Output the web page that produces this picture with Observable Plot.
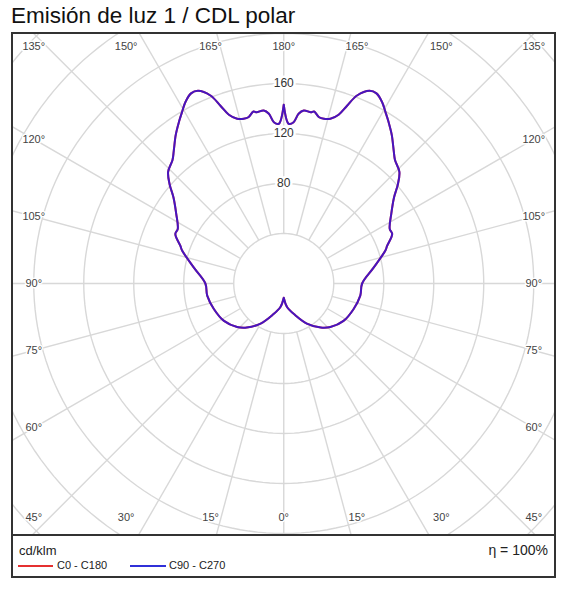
<!DOCTYPE html>
<html><head><meta charset="utf-8">
<script src="https://cdn.jsdelivr.net/npm/d3@7"></script>
<script src="https://cdn.jsdelivr.net/npm/@observablehq/plot@0.6"></script>
<style>
body{margin:0;background:#fff;font-family:"Liberation Sans",Arial,sans-serif;}
#title{position:absolute;left:11px;top:3px;font-size:22.5px;color:#111;white-space:nowrap;}
#box{position:absolute;left:11px;top:32px;width:541px;border:2px solid #333;background:#fff;}
#chart svg{display:block;}
#legend{position:relative;border-top:2px solid #333;height:40px;}
#legend .t{position:absolute;white-space:nowrap;color:#222;}
#legend .ln{position:absolute;height:0;border-top:2px solid;}
</style></head><body>
<div id="title">Emisión de luz 1 / CDL polar</div>
<div id="box"><div id="chart"></div>
<div id="legend">
<div class="t" style="left:6px;top:7px;font-size:13px;">cd/klm</div>
<div class="t" style="right:6px;top:6px;font-size:14px;">η = 100%</div>
<div class="ln" style="left:5px;top:29px;width:35px;border-color:#e53030;"></div>
<div class="t" style="left:44px;top:23px;font-size:11px;">C0 - C180</div>
<div class="ln" style="left:117px;top:29px;width:36px;border-color:#3030d8;"></div>
<div class="t" style="left:156px;top:23px;font-size:11px;">C90 - C270</div>
</div></div>
<script>
// Gamma angles (deg from nadir) and luminous intensity (cd/klm)
const gamma = [0, 8, 20, 30, 40, 47, 58, 70, 81, 90, 100, 108, 110, 114.6, 117.3, 123, 128, 131, 134, 138, 140.4, 144, 147, 149.3, 151.5, 154, 156, 158.7, 160.4, 162, 164.2, 166.3, 168, 170, 171, 173.4, 175, 176.5, 178.2, 180];
const c90 = [11.4, 19, 27, 37, 46, 51, 56.4, 59.5, 62, 62.7, 73, 85.5, 88, 95.4, 95.4, 102.6, 112, 121, 128.6, 133, 138, 147, 154, 159.4, 165, 169.2, 168.7, 161.4, 151, 142, 137, 135.6, 136, 139.7, 138.7, 139.3, 136.3, 129.3, 127.8, 143];
const c270 = [11.4, 19, 27, 37, 46, 51, 56.4, 59.5, 62, 62.7, 73, 85.5, 88, 95.4, 95.4, 102.6, 112, 121, 128.6, 133, 138, 147, 154, 159.4, 165, 169.2, 168.7, 161.4, 151, 142, 137, 135.6, 136, 139.7, 138.7, 139.3, 136.3, 129.3, 127.8, 143];
const c0 = c90;
const c180 = c270;
// Grid
const ringRadii = [40, 80, 120, 160, 200, 240, 280];
const ringLabels = [80, 120, 160];
const spokeAngles = d3.range(0, 360, 15);
const angleLabelsRight = [0, 15, 30, 45, 60, 75, 90, 105, 120, 135, 150, 165, 180];
const angleLabelsLeft = [15, 30, 45, 60, 75, 90, 105, 120, 135, 150, 165];

const rad = d => d * Math.PI / 180;
function half(intens, side) {
  return gamma.map((g, i) => ({x: side * intens[i] * Math.sin(rad(g)), y: -intens[i] * Math.cos(rad(g))}));
}
function loop(left, right) {
  return half(left, -1).reverse().concat(half(right, 1));
}
const curveA = loop(c180, c0);
const curveB = loop(c270, c90);

const rings = ringRadii.flatMap(r => d3.range(0, 361, 2).map(a => ({r, x: r * Math.sin(rad(a)), y: r * Math.cos(rad(a))})));
const spokes = spokeAngles.map(a => ({x1: 40 * Math.sin(rad(a)), y1: 40 * Math.cos(rad(a)), x2: 400 * Math.sin(rad(a)), y2: 400 * Math.cos(rad(a))}));

const SIDE = 200, TOP = 189.6, BOT = -187.2, FAR = 218.4;
function labelPos(g, side) {
  let x, y;
  if (g <= 45) { x = Math.min(Math.tan(rad(g)) * FAR, SIDE); y = BOT; }
  else if (g >= 135) { x = Math.min(Math.tan(rad(180 - g)) * FAR, SIDE); y = TOP; }
  else { x = SIDE; y = -SIDE * Math.cos(rad(g)) / Math.sin(rad(g)); }
  return {x: side * x, y, label: g + "°"};
}
const angleLabels = angleLabelsRight.map(g => labelPos(g, 1)).concat(angleLabelsLeft.map(g => labelPos(g, -1)));

const gridColor = "#d8d8d8";
const chart = Plot.plot({
  width: 541, height: 500,
  margin: 0,
  x: {domain: [-216.2, 216.6], axis: null},
  y: {domain: [-200.8, 199.2], axis: null},
  style: {background: "#fff", fontFamily: "'Liberation Sans', Arial, sans-serif", overflow: "hidden"},
  marks: [
    Plot.line(rings, {x: "x", y: "y", z: "r", stroke: gridColor, strokeWidth: 1.4, clip: true}),
    Plot.link(spokes, {x1: "x1", y1: "y1", x2: "x2", y2: "y2", stroke: gridColor, strokeWidth: 1.4, clip: true}),
    Plot.text(ringLabels, {x: () => 0, y: d => d, text: d => String(d), fontSize: 12, fill: "#333", stroke: "white", strokeWidth: 5}),
    Plot.text(angleLabels, {x: "x", y: "y", text: "label", fontSize: 11, fill: "#444", stroke: "white", strokeWidth: 3}),
    Plot.line(curveA, {x: "x", y: "y", stroke: "#e53030", strokeWidth: 2, curve: "catmull-rom"}),
    Plot.line(curveB, {x: "x", y: "y", stroke: "#2a10d8", strokeWidth: 2, strokeOpacity: 0.85, curve: "catmull-rom"})
  ]
});
document.getElementById("chart").appendChild(chart);
</script>
</body></html>
